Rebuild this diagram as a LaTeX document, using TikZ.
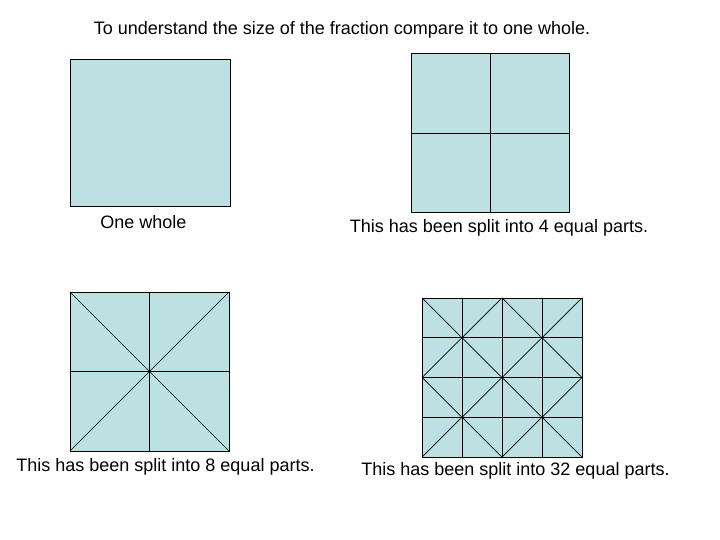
\documentclass[tikz,border=0pt]{standalone}
\usepackage{fontspec}
\setmainfont{Liberation Sans}
\usetikzlibrary{calc}
\definecolor{paper}{RGB}{189,224,227}
\begin{document}
\begin{tikzpicture}[x=1pt,y=-1pt,
  sq/.style={draw=black,fill=paper,line width=1pt,inner sep=0pt,outer sep=0pt},
  grid/.style={draw=black,line width=1pt},
  diag/.style={draw=black,line width=0.7pt},
  lbl/.style={font=\fontsize{18}{21}\selectfont,inner sep=0pt,anchor=center}]
\useasboundingbox (0,0) rectangle (720,540);
\fill[white] (0,0) rectangle (720,540);

\node[lbl] (title) at (342,30) {To understand the size of the fraction compare it to one whole.};

% one whole
\node[sq,minimum width=160pt,minimum height=147pt] (A) at (150,133.5) {};
\node[lbl] (la) at (143.5,222) {One whole};

% four parts
\node[sq,minimum width=158pt,minimum height=159pt] (B) at (490,133.5) {};
\draw[grid] (B.north) -- (B.south);
\draw[grid] (B.west) -- (B.east);
\node[lbl] (lb) at (499,228) {This has been split into 4 equal parts.};

% eight parts
\node[sq,minimum width=159pt,minimum height=159pt] (C) at (149.5,371.5) {};
\draw[grid] (C.north) -- (C.south);
\draw[grid] (C.west) -- (C.east);
\draw[diag] (C.north west) -- (C.south east);
\draw[diag] (C.north east) -- (C.south west);
\node[lbl] (lc) at (165.5,467) {This has been split into 8 equal parts.};

% thirty-two parts
\node[sq,minimum width=160pt,minimum height=159pt] (D) at (502,377.5) {};
\foreach \i in {1,2,3} {
  \draw[grid] ($(D.north west)!\i/4!(D.north east)$) -- ($(D.south west)!\i/4!(D.south east)$);
  \draw[grid] ($(D.north west)!\i/4!(D.south west)$) -- ($(D.north east)!\i/4!(D.south east)$);
}
\draw[diag] (D.north west) -- (D.south east);
\draw[diag] (D.north east) -- (D.south west);
\draw[diag] (D.north) -- (D.east) -- (D.south) -- (D.west) -- cycle;
\node[lbl] (ld) at (515.5,471) {This has been split into 32 equal parts.};
\end{tikzpicture}
\end{document}
